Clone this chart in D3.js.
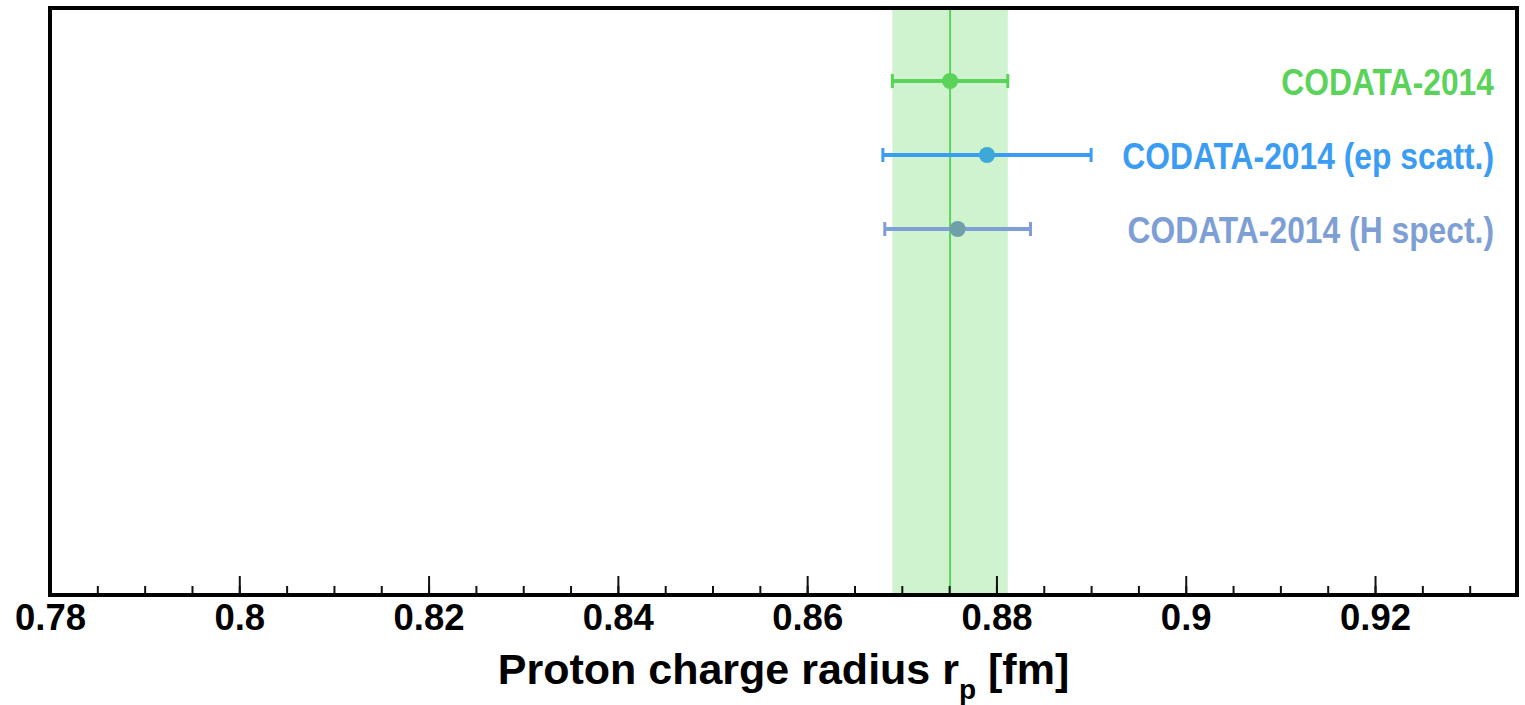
<!DOCTYPE html>
<html>
<head>
<meta charset="utf-8">
<script src="https://cdn.jsdelivr.net/npm/d3@7"></script>
<style>
  html, body { margin: 0; padding: 0; background: #fff; }
  svg { display: block; font-family: "Liberation Sans", Arial, Helvetica, sans-serif; }
</style>
</head>
<body>
<div id="chart"></div>
<script>
// measurement labels, values and uncertainties (fm)
const labels = ['CODATA-2014', 'CODATA-2014 (ep scatt.)', 'CODATA-2014 (H spect.)'];
const values = [0.8751, 0.879, 0.8759];
const errors = [0.0061, 0.011, 0.0077];
const lineColors = ['#5bd35b', '#3b9cf4', '#7e9ed6'];
const markerColors = ['#5bd35b', '#3ea8d6', '#6fa0aa'];

// reference band (CODATA-2014)
const bandCenter = 0.8751;
const bandError = 0.0061;

const majorTicks = [0.78, 0.8, 0.82, 0.84, 0.86, 0.88, 0.9, 0.92];
const minorTicks = d3.range(0, 32).map(i => +(0.78 + i * 0.005).toFixed(3));
const xDomain = [0.78, 0.935];

const width = 1525, height = 705;
const margin = { top: 8, right: 8, bottom: 110, left: 50 };
const plotW = width - margin.left - margin.right;
const plotH = height - margin.top - margin.bottom;

const svg = d3.select('#chart').append('svg')
  .attr('width', width)
  .attr('height', height);

const x = d3.scaleLinear().domain(xDomain).range([0, plotW]);
const y = d3.scalePoint().domain(labels).range([73, 221]);

const g = svg.append('g').attr('transform', `translate(${margin.left},${margin.top})`);

// green band + central line
g.append('rect')
  .attr('x', x(bandCenter - bandError))
  .attr('y', 0)
  .attr('width', x(bandCenter + bandError) - x(bandCenter - bandError))
  .attr('height', plotH)
  .attr('fill', '#cff2cf');

g.append('line')
  .attr('x1', x(bandCenter)).attr('x2', x(bandCenter))
  .attr('y1', 0).attr('y2', plotH)
  .attr('stroke', '#5bd35b')
  .attr('stroke-width', 2);

// minor ticks
g.append('g')
  .attr('transform', `translate(0,${plotH})`)
  .call(d3.axisBottom(x).tickValues(minorTicks).tickSize(-9).tickFormat(''))
  .call(a => a.select('.domain').remove())
  .call(a => a.selectAll('line').attr('stroke', '#111').attr('stroke-width', 2));

// major ticks with labels
g.append('g')
  .attr('transform', `translate(0,${plotH})`)
  .call(d3.axisBottom(x).tickValues(majorTicks).tickSize(-19).tickPadding(0).tickFormat(d3.format('')))
  .call(a => a.select('.domain').remove())
  .call(a => a.selectAll('line').attr('stroke', '#111').attr('stroke-width', 2))
  .call(a => a.selectAll('text')
    .attr('y', 35)
    .attr('dy', 0)
    .attr('fill', '#000')
    .attr('font-size', 36.5)
    .attr('font-weight', 'bold')
    .attr('font-family', '"Liberation Sans", Arial, sans-serif'));

// frame
g.append('rect')
  .attr('x', 0).attr('y', 0)
  .attr('width', plotW).attr('height', plotH)
  .attr('fill', 'none')
  .attr('stroke', '#000')
  .attr('stroke-width', 4);

// error bars
const rows = g.selectAll('.row')
  .data(labels.map((l, i) => ({ label: l, value: values[i], err: errors[i], line: lineColors[i], marker: markerColors[i] })))
  .enter().append('g')
  .attr('class', 'row')
  .attr('transform', d => `translate(0,${y(d.label)})`);

rows.append('line')
  .attr('x1', d => x(d.value - d.err))
  .attr('x2', d => x(d.value + d.err))
  .attr('stroke', d => d.line)
  .attr('stroke-width', 4);

rows.selectAll('.cap')
  .data(d => [d.value - d.err, d.value + d.err].map(v => ({ v, c: d.line })))
  .enter().append('line')
  .attr('class', 'cap')
  .attr('x1', d => x(d.v)).attr('x2', d => x(d.v))
  .attr('y1', -7).attr('y2', 7)
  .attr('stroke', d => d.c)
  .attr('stroke-width', 3);

rows.append('circle')
  .attr('cx', d => x(d.value))
  .attr('r', 8)
  .attr('fill', d => d.marker);

rows.append('text')
  .attr('transform', `translate(${1494 - margin.left},14) scale(0.86,1)`)
  .attr('text-anchor', 'end')
  .attr('font-size', 37)
  .attr('font-weight', 'bold')
  .attr('fill', d => d.line)
  .text(d => d.label);

// axis title
const title = svg.append('text')
  .attr('x', margin.left + plotW / 2)
  .attr('y', 684)
  .attr('text-anchor', 'middle')
  .attr('font-size', 43)
  .attr('font-weight', 'bold')
  .attr('fill', '#000');
title.append('tspan').text('Proton charge radius r');
title.append('tspan').attr('font-size', 28).attr('dy', 15).text('p');
title.append('tspan').attr('dy', -15).text(' [fm]');
</script>
</body>
</html>
